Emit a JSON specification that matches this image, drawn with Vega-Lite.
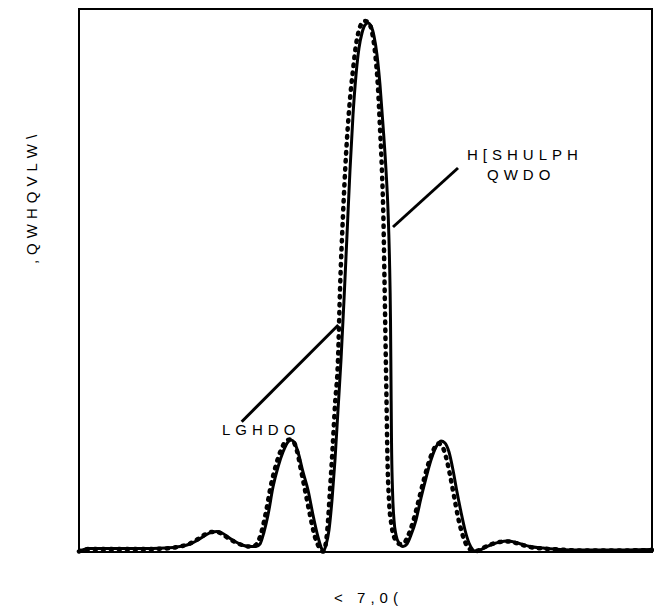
{
  "$schema": "https://vega.github.io/schema/vega-lite/v6.json",
  "width": 573,
  "height": 543,
  "autosize": {"type": "none"},
  "padding": {"left": 79, "top": 9, "right": 2, "bottom": 61},
  "background": "white",
  "config": {
    "view": {"stroke": "black", "strokeWidth": 2},
    "font": "Liberation Sans"
  },
  "datasets": {
    "experimental": [
      {"t":0,"I":0.5},{"t":5,"I":2.5},{"t":11,"I":3.5},{"t":31,"I":3.5},{"t":61,"I":3.5},{"t":86,"I":4},{"t":101,"I":5.5},{"t":111,"I":8},{"t":119,"I":12},{"t":126,"I":16.5},{"t":133,"I":20},{"t":138,"I":20.5},{"t":143,"I":19},{"t":149,"I":15},{"t":156,"I":10.5},{"t":163,"I":7},{"t":171,"I":5.5},{"t":177,"I":5.5},{"t":181,"I":8},{"t":185,"I":20},{"t":189,"I":37},{"t":194,"I":65},{"t":199,"I":85},{"t":204,"I":100},{"t":209,"I":110},{"t":212,"I":112},{"t":215,"I":110},{"t":219,"I":100},{"t":224,"I":80},{"t":229,"I":62},{"t":234,"I":37},{"t":239,"I":15},{"t":242,"I":5},{"t":244,"I":1},{"t":247,"I":7},{"t":250,"I":22},{"t":253,"I":52},{"t":256,"I":92},{"t":259,"I":142},{"t":262,"I":192},{"t":265,"I":252},{"t":268,"I":317},{"t":271,"I":382},{"t":274,"I":437},{"t":277,"I":477},{"t":280,"I":504},{"t":283,"I":519},{"t":286,"I":527},{"t":289,"I":529},{"t":292,"I":526},{"t":295,"I":516},{"t":298,"I":497},{"t":301,"I":467},{"t":304,"I":427},{"t":307,"I":382},{"t":309,"I":342},{"t":310.5,"I":292},{"t":311.5,"I":232},{"t":312,"I":172},{"t":312.5,"I":112},{"t":313.5,"I":62},{"t":315,"I":32},{"t":317,"I":17},{"t":320,"I":9},{"t":324,"I":5.5},{"t":328,"I":8},{"t":332,"I":17},{"t":337,"I":32},{"t":342,"I":54},{"t":347,"I":74},{"t":352,"I":92},{"t":357,"I":105},{"t":362,"I":111},{"t":366,"I":109},{"t":370,"I":100},{"t":374,"I":82},{"t":378,"I":60},{"t":382,"I":40},{"t":386,"I":22},{"t":390,"I":9},{"t":394,"I":2},{"t":397,"I":0.5},{"t":401,"I":2},{"t":407,"I":5},{"t":414,"I":8},{"t":421,"I":10},{"t":428,"I":11},{"t":435,"I":10},{"t":442,"I":8},{"t":451,"I":5.5},{"t":464,"I":4},{"t":481,"I":2.5},{"t":501,"I":2},{"t":531,"I":2},{"t":573,"I":2.5}
    ],
    "ideal": [
      {"t":0,"I":0.5},{"t":5,"I":2.5},{"t":11,"I":3},{"t":31,"I":3},{"t":61,"I":3},{"t":86,"I":3.5},{"t":101,"I":5.5},{"t":111,"I":8.5},{"t":119,"I":13},{"t":126,"I":17.5},{"t":133,"I":20},{"t":138,"I":20},{"t":143,"I":18},{"t":149,"I":14},{"t":156,"I":10},{"t":163,"I":7},{"t":169,"I":5.5},{"t":175,"I":6},{"t":179,"I":10},{"t":183,"I":22},{"t":187,"I":40},{"t":192,"I":67},{"t":197,"I":87},{"t":202,"I":102},{"t":207,"I":111},{"t":211,"I":112.5},{"t":214,"I":111},{"t":218,"I":101},{"t":222,"I":82},{"t":226,"I":62},{"t":231,"I":37},{"t":236,"I":15},{"t":240,"I":5},{"t":244,"I":0.5},{"t":246.5,"I":7},{"t":248.5,"I":24},{"t":251,"I":62},{"t":253.5,"I":102},{"t":256,"I":147},{"t":259,"I":192},{"t":261,"I":262},{"t":264,"I":337},{"t":267,"I":397},{"t":270.5,"I":447},{"t":274,"I":482},{"t":277,"I":507},{"t":280,"I":522},{"t":283,"I":529},{"t":286,"I":531},{"t":288,"I":530.5},{"t":290,"I":529},{"t":293,"I":520},{"t":296,"I":500},{"t":299,"I":464},{"t":301,"I":424},{"t":303,"I":380},{"t":304.5,"I":330},{"t":305.5,"I":272},{"t":306.5,"I":212},{"t":307.5,"I":152},{"t":308.5,"I":92},{"t":310,"I":52},{"t":312.5,"I":27},{"t":316,"I":13},{"t":321,"I":8},{"t":325,"I":9},{"t":329,"I":16},{"t":334,"I":30},{"t":339,"I":49},{"t":344,"I":69},{"t":349,"I":87},{"t":354,"I":101},{"t":359,"I":108.5},{"t":363,"I":106},{"t":367,"I":95},{"t":371,"I":77},{"t":375,"I":56},{"t":379,"I":35},{"t":383,"I":19},{"t":387,"I":8},{"t":392,"I":2},{"t":396,"I":0.5},{"t":400,"I":2},{"t":406,"I":5},{"t":413,"I":8},{"t":421,"I":10},{"t":428,"I":10.5},{"t":435,"I":9.5},{"t":442,"I":7.5},{"t":451,"I":5},{"t":464,"I":3.5},{"t":481,"I":2.5},{"t":501,"I":1.5},{"t":531,"I":1.5},{"t":573,"I":2}
    ],
    "leaders": [
      {"t":314,"I":325,"t2":379,"I2":384},
      {"t":162.7,"I":130.3,"t2":259.3,"I2":227}
    ],
    "labels": [
      {"t":388,"I":397,"label":"H\u2004[\u2004S\u2004H\u2004U\u2004L\u2004P\u2004H"},
      {"t":408,"I":377,"label":"Q\u2004W\u2004D\u2004O"},
      {"t":143,"I":122,"label":"L\u2004G\u2004H\u2004D\u2004O"}
    ]
  },
  "encoding": {
    "x": {
      "field": "t", "type": "quantitative",
      "scale": {"domain": [0, 573], "nice": false, "zero": false},
      "axis": {
        "title": "<\u2004 \u20047\u2004,\u20040\u2004(",
        "labels": false, "ticks": false, "domain": false, "grid": false,
        "titleFont": "Liberation Sans", "titleFontSize": 15, "titleFontWeight": "normal",
        "titleColor": "black", "titlePadding": 38
      }
    },
    "y": {
      "field": "I", "type": "quantitative",
      "scale": {"domain": [0, 543], "nice": false, "zero": false},
      "axis": {
        "title": ",\u2004Q\u2004W\u2004H\u2004Q\u2004V\u2004L\u2004W\u2004\\",
        "labels": false, "ticks": false, "domain": false, "grid": false,
        "titleFont": "Liberation Sans", "titleFontSize": 15, "titleFontWeight": "normal",
        "titleColor": "black", "titlePadding": 40, "titleY": 190
      }
    }
  },
  "layer": [
    {
      "data": {"name": "experimental"},
      "mark": {"type": "line", "interpolate": "monotone", "color": "black", "strokeWidth": 3}
    },
    {
      "data": {"name": "ideal"},
      "mark": {"type": "line", "interpolate": "monotone", "color": "black", "strokeWidth": 4.5, "strokeCap": "round", "strokeDash": [1.5, 6.5]}
    },
    {
      "data": {"name": "leaders"},
      "mark": {"type": "rule", "color": "black", "strokeWidth": 3},
      "encoding": {
        "x2": {"field": "t2"},
        "y2": {"field": "I2"}
      }
    },
    {
      "data": {"name": "labels"},
      "mark": {"type": "text", "align": "left", "baseline": "middle", "font": "Liberation Sans", "fontSize": 15, "color": "black"},
      "encoding": {
        "text": {"field": "label", "type": "nominal"}
      }
    }
  ]
}
